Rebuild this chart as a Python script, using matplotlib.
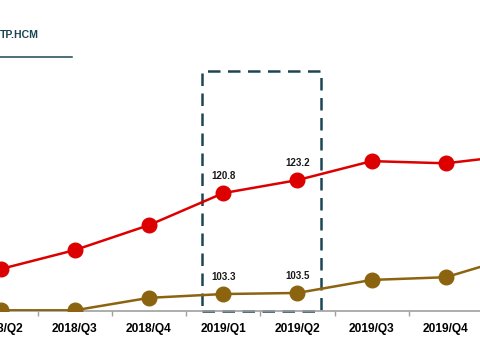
import numpy as np
import matplotlib.pyplot as plt
from matplotlib.patches import Rectangle
from matplotlib.ticker import FixedLocator

# データ
quarters = ['2018/Q2', '2018/Q3', '2018/Q4', '2019/Q1', '2019/Q2', '2019/Q3', '2019/Q4', '2020/Q1']
red_values = [106.8, 110.3, 114.9, 120.8, 123.2, 126.7, 126.3, 127.9]
gold_values = [100.3, 100.3, 102.6, 103.3, 103.5, 105.9, 106.4, 110.5]
labeled = ['2019/Q1', '2019/Q2']  # 数値ラベルを付ける四半期
title_text = 'TP.HCM'

RED = '#dc0000'
GOLD = '#8c6410'
TEAL = '#1d4654'

plt.rcParams['font.family'] = ['Liberation Sans', 'DejaVu Sans']

fig = plt.figure(figsize=(4.8, 3.6), dpi=100)
ax = fig.add_axes([0, 0.135, 1, 0.865])
ax2 = ax.twinx()

x = np.arange(len(quarters))

ax.plot(x, red_values, color=RED, lw=1.8, marker='o', ms=10.5, zorder=3)
ax2.plot(x, gold_values, color=GOLD, lw=1.8, marker='o', ms=10.5, zorder=3)

for i, q in enumerate(quarters):
    if q in labeled:
        ax.annotate(f'{red_values[i]:.1f}', (x[i], red_values[i]), xytext=(0, 12),
                    textcoords='offset points', ha='center', va='center',
                    fontsize=7, fontweight='bold', color='#1a1a1a')
        ax2.annotate(f'{gold_values[i]:.1f}', (x[i], gold_values[i]), xytext=(0, 12),
                     textcoords='offset points', ha='center', va='center',
                     fontsize=7, fontweight='bold', color='#1a1a1a')

ax.set_ylim(99.0, 156.4)
ax2.set_ylim(100.1, 157.5)

ax.set_xticks(x)
ax.set_xticklabels(quarters, fontsize=8.6, fontweight='bold')
ax.tick_params(axis='x', which='major', length=0, pad=8)
ax.xaxis.set_minor_locator(FixedLocator(x[:-1] + 0.5))
ax.tick_params(axis='x', which='minor', length=3.5, width=1, color='#a0a0a0')
ax.set_yticks([])
ax2.set_yticks([])

for a in (ax, ax2):
    for s in ('top', 'left', 'right'):
        a.spines[s].set_visible(False)
    a.patch.set_visible(False)
ax2.spines['bottom'].set_visible(False)
ax.spines['bottom'].set_color('#a0a0a0')
ax.spines['bottom'].set_linewidth(1.2)

# 強調枠 (2019/Q1 - 2019/Q2)
box = Rectangle((2.72, 99.0), 1.6, 44.3, fill=False, ec=TEAL, lw=1.8,
                ls=(0, (5, 3)), clip_on=False, zorder=2)
ax.add_patch(box)

# x範囲は最後に固定 (twinx の自動スケール対策)
for a in (ax, ax2):
    a.set_xlim(-0.007, 6.46)
    a.set_autoscalex_on(False)

# タイトル (左上)
fig.text(0.0, 0.902, title_text, ha='left', va='center', fontsize=7.6,
         fontweight='bold', color=TEAL)
fig.add_artist(plt.Line2D([0, 0.15], [0.842, 0.842], color=TEAL, lw=1.1))

fig.savefig('out.png', dpi=100)
